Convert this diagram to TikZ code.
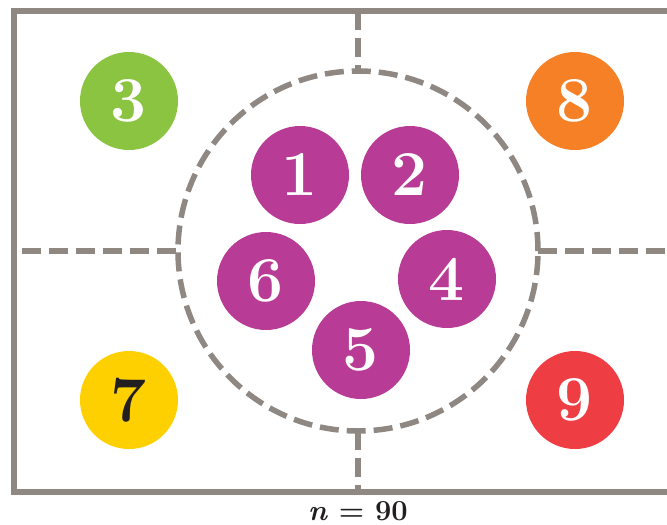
\documentclass[tikz,border=0pt]{standalone}
\usepackage{tikz}
\definecolor{frame}{HTML}{8E8782}
\definecolor{cgreen}{HTML}{8AC440}
\definecolor{corange}{HTML}{F58025}
\definecolor{cyellow}{HTML}{FFD000}
\definecolor{cred}{HTML}{EE3E43}
\definecolor{cpurple}{HTML}{B83C96}
\definecolor{ink}{HTML}{231F20}
\tikzset{
  disc/.style={circle, minimum size=98pt, inner sep=0pt, text=white,
    font=\fontsize{64}{64}\selectfont\bfseries},
  dashline/.style={draw=frame, line width=5.5pt, dash pattern=on 19pt off 8pt},
  solidline/.style={draw=frame, line width=5.5pt},
}
\begin{document}
\begin{tikzpicture}[x=1pt,y=-1pt]
\useasboundingbox (0,0) rectangle (667,525);
% frame
\coordinate (tr) at (667,11);
\coordinate (tl) at (14,11);
\coordinate (bl) at (14,492);
\coordinate (br) at (667,492);
\draw[solidline] (tr) -- (tl) -- (bl) -- (br);
% dashed circle
\node (ring) [circle, minimum size=360pt, inner sep=0pt] at (358,251) {};
\draw[dashline] (ring.center) circle (180pt);
\coordinate (topmid) at (358,11);
\coordinate (botmid) at (358,492);
\coordinate (leftmid) at (22,251);
\coordinate (rightmid) at (667,251);
\draw[dashline] (topmid) -- (ring.north);
\draw[dashline] (ring.south) -- (botmid);
\draw[dashline] (leftmid) -- (ring.west);
\draw[dashline] (ring.east) -- (rightmid);
% discs
\node (n3) [disc, fill=cgreen] at (129,101) {3};
\node (n8) [disc, fill=corange] at (575,101) {8};
\node (n7) [disc, fill=cyellow, text=ink] at (129,400) {7};
\node (n9) [disc, fill=cred] at (575,400) {9};
\node (n1) [disc, fill=cpurple] at (300,175) {1};
\node (n2) [disc, fill=cpurple] at (410,175) {2};
\node (n6) [disc, fill=cpurple] at (266,281) {6};
\node (n4) [disc, fill=cpurple] at (447,279) {4};
\node (n5) [disc, fill=cpurple] at (361,350) {5};
% label
\node (lab) [text=ink, font=\fontsize{29}{29}\selectfont\bfseries] at (358,511) {\textit{n} = 90};
\end{tikzpicture}
\end{document}
